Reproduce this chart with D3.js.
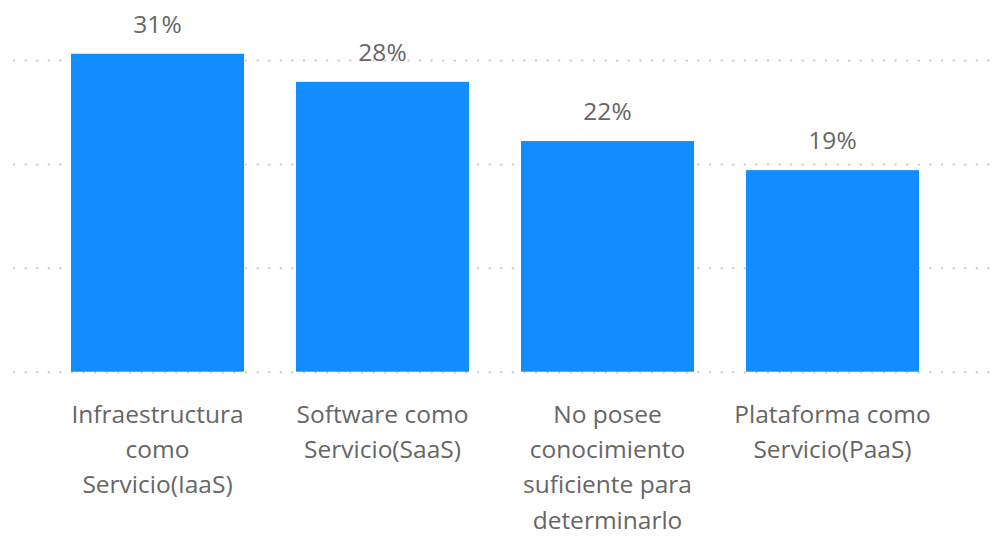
<!DOCTYPE html>
<html>
<head>
<meta charset="utf-8">
<script src="https://cdn.jsdelivr.net/npm/d3@7"></script>
<style>
  html, body { margin: 0; padding: 0; background: #fff; }
  svg { display: block; }
  .grid line { stroke: #c8c8c8; stroke-width: 2; stroke-dasharray: 2 9.6; }
  .grid .domain { display: none; }
  text { font-family: "Open Sans", "Noto Sans", sans-serif; fill: #666; }
</style>
</head>
<body>
<svg id="chart" width="992" height="536"></svg>
<script>
// Cloud service model share
const categories = [
  "Infraestructura como Servicio(IaaS)",
  "Software como Servicio(SaaS)",
  "No posee conocimiento suficiente para determinarlo",
  "Plataforma como Servicio(PaaS)"
];
const shares = [0.306, 0.279, 0.222, 0.194];
const gridTicks = [0, 0.1, 0.2, 0.3];

const W = 992, H = 536;
const svg = d3.select("#chart");

const x = d3.scaleBand()
  .domain(categories)
  .range([45, 945])
  .paddingInner(0.231)
  .paddingOuter(0.1155);

const y = d3.scaleLinear()
  .domain([0, 0.3])
  .range([371.7, 60]);

// dotted horizontal gridlines
const gridLeft = 13, gridRight = 990;
svg.append("g")
  .attr("class", "grid")
  .attr("transform", `translate(${gridLeft},0)`)
  .call(d3.axisLeft(y).tickValues(gridTicks).tickSize(-(gridRight - gridLeft)).tickFormat(""))
  .call(g => g.selectAll(".tick line").attr("x1", 0));

const data = categories.map((c, i) => ({ cat: c, v: shares[i] }));

// bars
svg.append("g").selectAll("rect")
  .data(data)
  .join("rect")
  .attr("x", d => x(d.cat))
  .attr("y", d => y(d.v))
  .attr("width", x.bandwidth())
  .attr("height", d => y(0) - y(d.v))
  .attr("fill", "#118DFF");

// value labels
const fmt = d3.format(".0%");
const fontSize = "24.5px";
svg.append("g").selectAll("text")
  .data(data)
  .join("text")
  .attr("x", d => x(d.cat) + x.bandwidth() / 2)
  .attr("y", d => y(d.v) - 21)
  .attr("text-anchor", "middle")
  .style("font-size", fontSize)
  .text(d => fmt(d.v));

// category labels, word-wrapped
const labelG = svg.append("g");
const maxW = 210;
const lineH = 35.2;
data.forEach(d => {
  const t = labelG.append("text")
    .attr("text-anchor", "middle")
    .style("font-size", fontSize);
  const cx = x(d.cat) + x.bandwidth() / 2;
  const words = d.cat.split(" ");
  let lines = [], cur = [];
  const probe = t.append("tspan");
  words.forEach(w => {
    const trial = cur.concat([w]).join(" ");
    probe.text(trial);
    if (cur.length && probe.node().getComputedTextLength() > maxW) {
      lines.push(cur.join(" "));
      cur = [w];
    } else {
      cur.push(w);
    }
  });
  if (cur.length) lines.push(cur.join(" "));
  probe.remove();
  lines.forEach((ln, i) => {
    t.append("tspan")
      .attr("x", cx)
      .attr("y", 423 + i * lineH)
      .text(ln);
  });
});
</script>
</body>
</html>
